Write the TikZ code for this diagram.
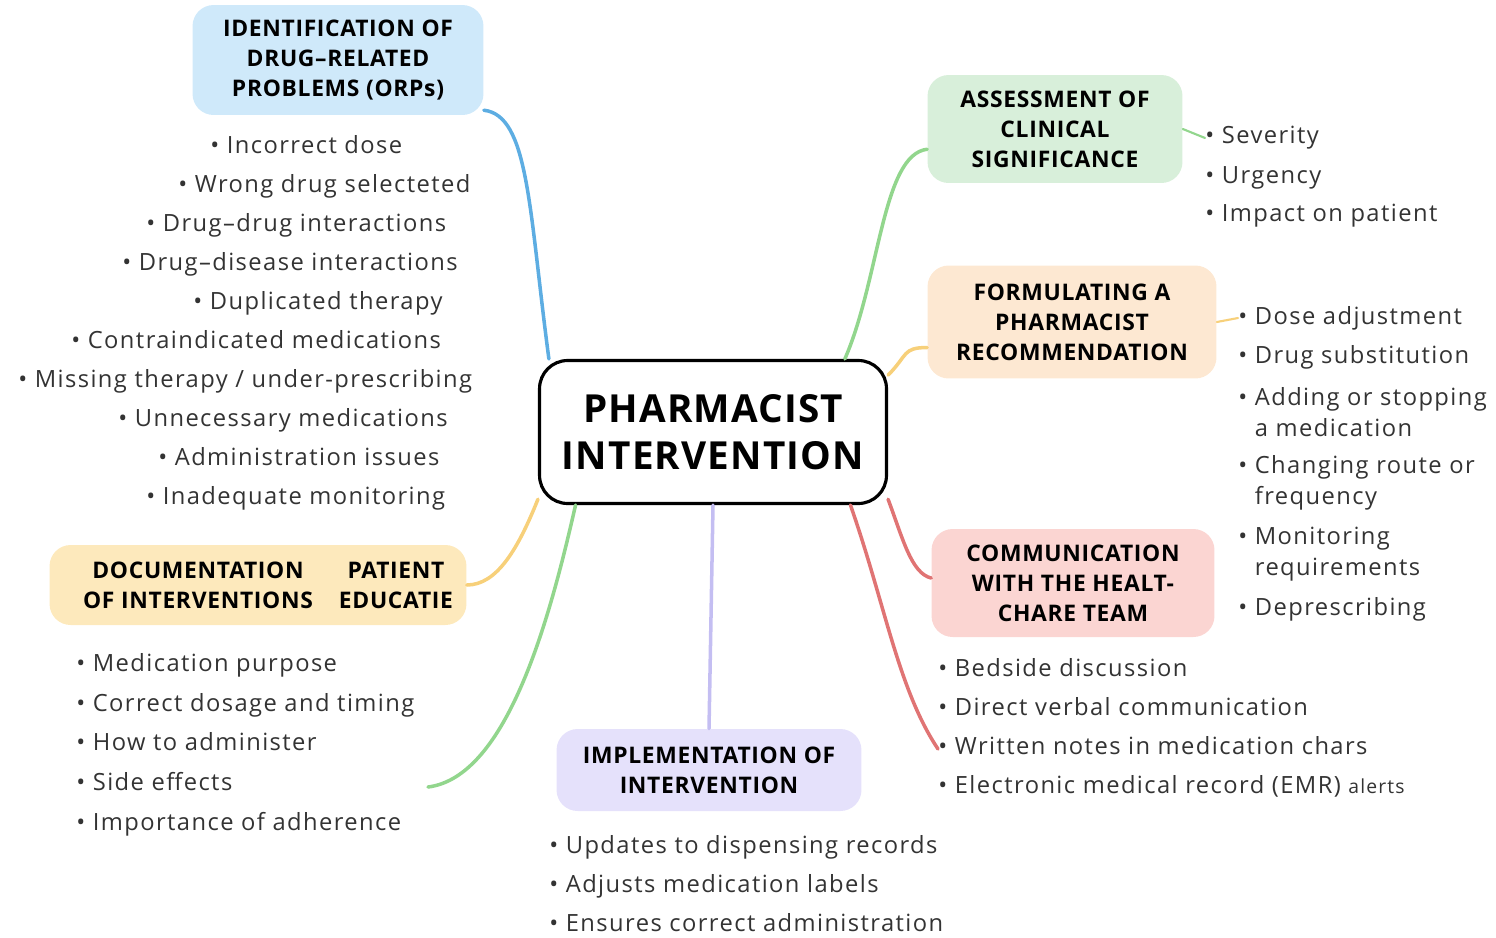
\documentclass[tikz,border=0pt]{standalone}
\usepackage{fontspec}
\setmainfont{Open Sans}
\newfontfamily\itemfont{Open Sans}[LetterSpace=6]
\newfontfamily\headfont{Open Sans}[LetterSpace=3]
\definecolor{idfill}{HTML}{CFE9FA}
\definecolor{asfill}{HTML}{D8EFDA}
\definecolor{fofill}{HTML}{FDE8D2}
\definecolor{cofill}{HTML}{FBD5D2}
\definecolor{imfill}{HTML}{E5E1FB}
\definecolor{dcfill}{HTML}{FDE9BC}
\definecolor{lblue}{HTML}{5DADE2}
\definecolor{lgreen}{HTML}{92D68D}
\definecolor{lyellow}{HTML}{F7D07A}
\definecolor{lred}{HTML}{E07474}
\definecolor{lpurple}{HTML}{C4BEF2}
\definecolor{txt}{HTML}{333333}
\begin{document}
\begin{tikzpicture}[x=0.02cm, y=-0.02cm,
  topic/.style={rounded corners=12pt, align=center, inner sep=0pt,
    font=\headfont\bfseries\fontsize{13}{17}\selectfont},
  item/.style={anchor=west, align=left, inner sep=0pt, text=txt,
    font=\itemfont\fontsize{13.5}{17.5}\selectfont},
  single/.style={item, text height=9.5pt, text depth=3pt, yshift=-1.7pt},
  link/.style={line width=2pt, line cap=round}]
\useasboundingbox (0,0) rectangle (1496,937);

\node [draw, line width=1.8pt, rounded corners=16pt, minimum width=6.94cm, minimum height=2.86cm,
  align=center, font=\headfont\bfseries\fontsize{22}{26.5}\selectfont] (c) at (713,432) {PHARMACIST\\INTERVENTION};

\node [topic, fill=idfill, minimum width=5.82cm, minimum height=2.2cm] (id) at (338,60) {IDENTIFICATION OF\\DRUG–RELATED\\PROBLEMS (ORPs)};
\node [topic, fill=asfill, minimum width=5.1cm, minimum height=2.16cm] (as) at (1055,129) {ASSESSMENT OF\\CLINICAL\\SIGNIFICANCE};
\node [topic, fill=fofill, minimum width=5.78cm, minimum height=2.26cm] (fo) at (1072,322) {FORMULATING A\\PHARMACIST\\RECOMMENDATION};
\node [topic, fill=cofill, minimum width=5.66cm, minimum height=2.16cm] (co) at (1073,583) {COMMUNICATION\\WITH THE HEALT-\\CHARE TEAM};
\node [topic, fill=imfill, minimum width=6.1cm, minimum height=1.64cm] (im) at (709,770) {IMPLEMENTATION OF\\INTERVENTION};
\node [topic, fill=dcfill, minimum width=8.34cm, minimum height=1.6cm] (dc) at (258,585) {};
\node [topic] (dc1) at (198,585) {DOCUMENTATION\\OF INTERVENTIONS};
\node [topic] (dc2) at (396,585) {PATIENT\\EDUCATIE};

\foreach \x/\y/\t [count=\n] in {210/145/Incorrect dose, 178/184/Wrong drug selecteted,
    146/223/Drug–drug interactions, 122/262/Drug–disease interactions,
    193/301/Duplicated therapy, 71/340/Contraindicated medications,
    18/379/{Missing therapy / under-prescribing}, 118/418/Unnecessary medications,
    158/457/Administration issues, 146/496/Inadequate monitoring}
  \node [single] (i\n) at (\x,\y) {• \t};

\foreach \y/\t [count=\n] in {135/Severity, 175/Urgency, 213/Impact on patient}
  \node [single] (a\n) at (1205,\y) {• \t};

\foreach \y/\t [count=\n] in {318/Dose adjustment, 357/Drug substitution,
    412/{Adding or stopping\\\hphantom{• }a medication},
    483/{Changing route or\\\hphantom{• }frequency},
    554/{Monitoring\\\hphantom{• }requirements}, 609/Deprescribing}
  \node [item] (f\n) at (1238,\y) {• \t};

\foreach \y/\t [count=\n] in {668/Bedside discussion, 707/Direct verbal communication,
    746/Written notes in medication chars,
    785/{Electronic medical record (EMR) {\fontsize{11}{12}\selectfont alerts}}}
  \node [single] (m\n) at (938,\y) {• \t};

\foreach \y/\t [count=\n] in {845/Updates to dispensing records,
    884/Adjusts medication labels, 923/Ensures correct administration}
  \node [single] (p\n) at (549,\y) {• \t};

\foreach \y/\t [count=\n] in {663/Medication purpose, 703/Correct dosage and timing,
    742/How to administer, 782/Side effects, 822/Importance of adherence}
  \node [single] (d\n) at (76,\y) {• \t};

\coordinate (de) at (428,787);

\draw [link, lblue] (id.-19) .. controls +(45,5) and +(-20,-150) .. (c.156);
\draw [link, lgreen] (c.29) .. controls +(35,-80) and +(-45,5) .. (as.189);
\draw [link, lgreen, line width=1.2pt] (as.east) -- (a1.west);
\draw [link, lyellow] (c.18) .. controls +(20,-20) and +(-25,0) .. (fo.190);
\draw [link, lyellow, line width=1.2pt] (fo.east) -- (f1.west);
\draw [link, lred] (c.-21) .. controls +(15,40) and +(-20,-5) .. (co.178);
\draw [link, lred] (c.-28) .. controls +(35,100) and +(-40,-60) .. (m3.west);
\draw [link, lpurple] (c.south) -- (im.north);
\draw [link, lgreen] (c.208) .. controls +(-25,110) and +(80,-10) .. (de);
\draw [link, lyellow] (c.201) .. controls +(-20,50) and +(30,0) .. (dc.east);
\end{tikzpicture}
\end{document}
